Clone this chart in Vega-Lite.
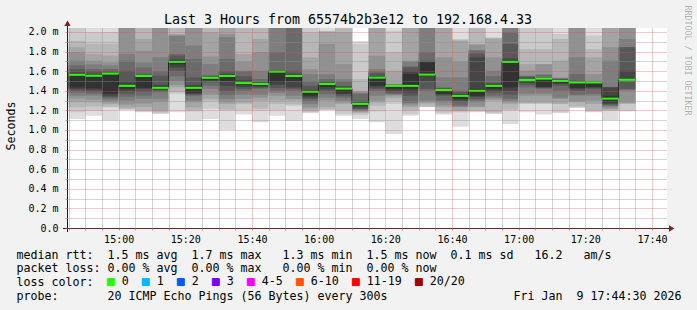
{
"$schema": "https://vega.github.io/schema/vega-lite/v6.json",
"width": 600, "height": 200,
"autosize": {"type": "none"},
"padding": {"left": 67, "top": 28, "right": 30, "bottom": 82},
"background": "#f2f2f2",
"config": {"view": {"fill": "#ffffff", "stroke": null}, "font": "DejaVu Sans Mono"},
"title": {"text": "Last 3 Hours from 65574b2b3e12 to 192.168.4.33", "font": "DejaVu Sans Mono", "fontSize": 13.3, "fontWeight": "normal", "color": "#000000", "anchor": "middle", "frame": "group", "dx": -19, "baseline": "alphabetic", "offset": -32},
"datasets": {
"median": [
{"t":885,"e":890,"m":1.563,"loss":"0"},{"t":890,"e":895,"m":1.553,"loss":"0"},{"t":895,"e":900,"m":1.575,"loss":"0"},{"t":900,"e":905,"m":1.45,"loss":"0"},{"t":905,"e":910,"m":1.551,"loss":"0"},{"t":910,"e":915,"m":1.43,"loss":"0"},{"t":915,"e":920,"m":1.695,"loss":"0"},{"t":920,"e":925,"m":1.43,"loss":"0"},{"t":925,"e":930,"m":1.532,"loss":"0"},{"t":930,"e":935,"m":1.551,"loss":"0"},{"t":935,"e":940,"m":1.479,"loss":"0"},{"t":940,"e":945,"m":1.469,"loss":"0"},{"t":945,"e":950,"m":1.595,"loss":"0"},{"t":950,"e":955,"m":1.551,"loss":"0"},{"t":955,"e":960,"m":1.39,"loss":"0"},{"t":960,"e":965,"m":1.469,"loss":"0"},{"t":965,"e":970,"m":1.422,"loss":"0"},{"t":970,"e":975,"m":1.266,"loss":"0"},{"t":975,"e":980,"m":1.534,"loss":"0"},{"t":980,"e":985,"m":1.45,"loss":"0"},{"t":985,"e":990,"m":1.45,"loss":"0"},{"t":990,"e":995,"m":1.565,"loss":"0"},{"t":995,"e":1000,"m":1.408,"loss":"0"},{"t":1000,"e":1005,"m":1.348,"loss":"0"},{"t":1005,"e":1010,"m":1.4,"loss":"0"},{"t":1010,"e":1015,"m":1.45,"loss":"0"},{"t":1015,"e":1020,"m":1.695,"loss":"0"},{"t":1020,"e":1025,"m":1.51,"loss":"0"},{"t":1025,"e":1030,"m":1.524,"loss":"0"},{"t":1030,"e":1035,"m":1.5,"loss":"0"},{"t":1035,"e":1040,"m":1.485,"loss":"0"},{"t":1040,"e":1045,"m":1.485,"loss":"0"},{"t":1045,"e":1050,"m":1.32,"loss":"0"},{"t":1050,"e":1055,"m":1.512,"loss":"0"}
],
"smoke": [
{"t":885,"e":890,"k":1,"lo":1.112,"hi":2.1},{"t":885,"e":890,"k":2,"lo":1.18,"hi":2.05},{"t":885,"e":890,"k":3,"lo":1.23,"hi":1.91},{"t":885,"e":890,"k":4,"lo":1.282,"hi":1.844},{"t":885,"e":890,"k":5,"lo":1.32,"hi":1.793},{"t":885,"e":890,"k":6,"lo":1.35,"hi":1.707},{"t":885,"e":890,"k":7,"lo":1.38,"hi":1.66},{"t":885,"e":890,"k":8,"lo":1.401,"hi":1.622},{"t":885,"e":890,"k":9,"lo":1.42,"hi":1.588},{"t":885,"e":890,"k":10,"lo":1.435,"hi":1.57},
{"t":890,"e":895,"k":1,"lo":1.146,"hi":2.1},{"t":890,"e":895,"k":2,"lo":1.197,"hi":1.997},{"t":890,"e":895,"k":3,"lo":1.24,"hi":1.88},{"t":890,"e":895,"k":4,"lo":1.282,"hi":1.776},{"t":890,"e":895,"k":5,"lo":1.31,"hi":1.707},{"t":890,"e":895,"k":6,"lo":1.35,"hi":1.67},{"t":890,"e":895,"k":7,"lo":1.37,"hi":1.622},{"t":890,"e":895,"k":8,"lo":1.39,"hi":1.6},{"t":890,"e":895,"k":9,"lo":1.41,"hi":1.571},{"t":890,"e":895,"k":10,"lo":1.425,"hi":1.56},
{"t":895,"e":900,"k":1,"lo":1.1,"hi":2.1},{"t":895,"e":900,"k":2,"lo":1.23,"hi":2.0},{"t":895,"e":900,"k":3,"lo":1.24,"hi":1.88},{"t":895,"e":900,"k":4,"lo":1.265,"hi":1.76},{"t":895,"e":900,"k":5,"lo":1.282,"hi":1.69},{"t":895,"e":900,"k":6,"lo":1.3,"hi":1.66},{"t":895,"e":900,"k":7,"lo":1.32,"hi":1.622},{"t":895,"e":900,"k":8,"lo":1.335,"hi":1.6},{"t":895,"e":900,"k":9,"lo":1.35,"hi":1.585},{"t":895,"e":900,"k":10,"lo":1.37,"hi":1.578},
{"t":900,"e":905,"k":1,"lo":1.204,"hi":2.1},{"t":900,"e":905,"k":2,"lo":1.21,"hi":2.1},{"t":900,"e":905,"k":3,"lo":1.214,"hi":2.1},{"t":900,"e":905,"k":4,"lo":1.231,"hi":2.1},{"t":900,"e":905,"k":5,"lo":1.26,"hi":2.1},{"t":900,"e":905,"k":6,"lo":1.299,"hi":1.776},{"t":900,"e":905,"k":7,"lo":1.34,"hi":1.707},{"t":900,"e":905,"k":8,"lo":1.37,"hi":1.605},{"t":900,"e":905,"k":9,"lo":1.4,"hi":1.5},{"t":900,"e":905,"k":10,"lo":1.42,"hi":1.46},
{"t":905,"e":910,"k":1,"lo":1.18,"hi":2.1},{"t":905,"e":910,"k":2,"lo":1.19,"hi":2.1},{"t":905,"e":910,"k":3,"lo":1.2,"hi":2.1},{"t":905,"e":910,"k":4,"lo":1.231,"hi":1.929},{"t":905,"e":910,"k":5,"lo":1.27,"hi":1.81},{"t":905,"e":910,"k":6,"lo":1.316,"hi":1.69},{"t":905,"e":910,"k":7,"lo":1.35,"hi":1.639},{"t":905,"e":910,"k":8,"lo":1.39,"hi":1.571},{"t":905,"e":910,"k":9,"lo":1.418,"hi":1.56},{"t":905,"e":910,"k":10,"lo":1.43,"hi":1.555},
{"t":910,"e":915,"k":1,"lo":1.163,"hi":2.1},{"t":910,"e":915,"k":2,"lo":1.17,"hi":2.1},{"t":910,"e":915,"k":3,"lo":1.18,"hi":2.1},{"t":910,"e":915,"k":4,"lo":1.2,"hi":2.1},{"t":910,"e":915,"k":5,"lo":1.282,"hi":2.1},{"t":910,"e":915,"k":6,"lo":1.32,"hi":1.741},{"t":910,"e":915,"k":7,"lo":1.384,"hi":1.6},{"t":910,"e":915,"k":8,"lo":1.4,"hi":1.554},{"t":910,"e":915,"k":9,"lo":1.41,"hi":1.46},{"t":910,"e":915,"k":10,"lo":1.418,"hi":1.44},
{"t":915,"e":920,"k":1,"lo":1.18,"hi":2.1},{"t":915,"e":920,"k":2,"lo":1.367,"hi":2.1},{"t":915,"e":920,"k":3,"lo":1.39,"hi":2.1},{"t":915,"e":920,"k":4,"lo":1.435,"hi":1.98},{"t":915,"e":920,"k":5,"lo":1.46,"hi":1.97},{"t":915,"e":920,"k":6,"lo":1.5,"hi":1.96},{"t":915,"e":920,"k":7,"lo":1.55,"hi":1.776},{"t":915,"e":920,"k":8,"lo":1.605,"hi":1.76},{"t":915,"e":920,"k":9,"lo":1.64,"hi":1.72},{"t":915,"e":920,"k":10,"lo":1.67,"hi":1.705},
{"t":920,"e":925,"k":1,"lo":1.095,"hi":2.1},{"t":920,"e":925,"k":2,"lo":1.19,"hi":2.1},{"t":920,"e":925,"k":3,"lo":1.2,"hi":2.1},{"t":920,"e":925,"k":4,"lo":1.23,"hi":2.1},{"t":920,"e":925,"k":5,"lo":1.282,"hi":2.1},{"t":920,"e":925,"k":6,"lo":1.3,"hi":1.861},{"t":920,"e":925,"k":7,"lo":1.35,"hi":1.724},{"t":920,"e":925,"k":8,"lo":1.36,"hi":1.537},{"t":920,"e":925,"k":9,"lo":1.37,"hi":1.46},{"t":920,"e":925,"k":10,"lo":1.38,"hi":1.44},
{"t":925,"e":930,"k":1,"lo":1.112,"hi":2.1},{"t":925,"e":930,"k":2,"lo":1.22,"hi":2.1},{"t":925,"e":930,"k":3,"lo":1.299,"hi":2.1},{"t":925,"e":930,"k":4,"lo":1.32,"hi":1.997},{"t":925,"e":930,"k":5,"lo":1.36,"hi":1.75},{"t":925,"e":930,"k":6,"lo":1.418,"hi":1.673},{"t":925,"e":930,"k":7,"lo":1.45,"hi":1.56},{"t":925,"e":930,"k":8,"lo":1.486,"hi":1.55},{"t":925,"e":930,"k":9,"lo":1.5,"hi":1.54},{"t":925,"e":930,"k":10,"lo":1.51,"hi":1.538},
{"t":930,"e":935,"k":1,"lo":1.0,"hi":2.1},{"t":930,"e":935,"k":2,"lo":1.197,"hi":2.1},{"t":930,"e":935,"k":3,"lo":1.21,"hi":2.1},{"t":930,"e":935,"k":4,"lo":1.265,"hi":2.1},{"t":930,"e":935,"k":5,"lo":1.282,"hi":1.98},{"t":930,"e":935,"k":6,"lo":1.316,"hi":1.95},{"t":930,"e":935,"k":7,"lo":1.36,"hi":1.724},{"t":930,"e":935,"k":8,"lo":1.4,"hi":1.6},{"t":930,"e":935,"k":9,"lo":1.45,"hi":1.57},{"t":930,"e":935,"k":10,"lo":1.5,"hi":1.56},
{"t":935,"e":940,"k":1,"lo":1.157,"hi":2.1},{"t":935,"e":940,"k":2,"lo":1.2,"hi":2.1},{"t":935,"e":940,"k":3,"lo":1.265,"hi":2.1},{"t":935,"e":940,"k":4,"lo":1.28,"hi":1.776},{"t":935,"e":940,"k":5,"lo":1.316,"hi":1.7},{"t":935,"e":940,"k":6,"lo":1.36,"hi":1.605},{"t":935,"e":940,"k":7,"lo":1.4,"hi":1.6},{"t":935,"e":940,"k":8,"lo":1.42,"hi":1.55},{"t":935,"e":940,"k":9,"lo":1.44,"hi":1.51},{"t":935,"e":940,"k":10,"lo":1.46,"hi":1.49},
{"t":940,"e":945,"k":1,"lo":1.078,"hi":2.1},{"t":940,"e":945,"k":2,"lo":1.197,"hi":2.1},{"t":940,"e":945,"k":3,"lo":1.22,"hi":2.1},{"t":940,"e":945,"k":4,"lo":1.299,"hi":1.929},{"t":940,"e":945,"k":5,"lo":1.33,"hi":1.793},{"t":940,"e":945,"k":6,"lo":1.36,"hi":1.605},{"t":940,"e":945,"k":7,"lo":1.418,"hi":1.52},{"t":940,"e":945,"k":8,"lo":1.43,"hi":1.49},{"t":940,"e":945,"k":9,"lo":1.44,"hi":1.48},{"t":940,"e":945,"k":10,"lo":1.45,"hi":1.475},
{"t":945,"e":950,"k":1,"lo":1.146,"hi":2.1},{"t":945,"e":950,"k":2,"lo":1.2,"hi":2.1},{"t":945,"e":950,"k":3,"lo":1.265,"hi":2.1},{"t":945,"e":950,"k":4,"lo":1.3,"hi":2.1},{"t":945,"e":950,"k":5,"lo":1.35,"hi":2.1},{"t":945,"e":950,"k":6,"lo":1.38,"hi":2.1},{"t":945,"e":950,"k":7,"lo":1.401,"hi":1.793},{"t":945,"e":950,"k":8,"lo":1.43,"hi":1.61},{"t":945,"e":950,"k":9,"lo":1.46,"hi":1.605},{"t":945,"e":950,"k":10,"lo":1.486,"hi":1.6},
{"t":950,"e":955,"k":1,"lo":1.095,"hi":2.1},{"t":950,"e":955,"k":2,"lo":1.248,"hi":2.1},{"t":950,"e":955,"k":3,"lo":1.26,"hi":2.1},{"t":950,"e":955,"k":4,"lo":1.3,"hi":2.1},{"t":950,"e":955,"k":5,"lo":1.316,"hi":2.1},{"t":950,"e":955,"k":6,"lo":1.35,"hi":2.1},{"t":950,"e":955,"k":7,"lo":1.4,"hi":2.1},{"t":950,"e":955,"k":8,"lo":1.42,"hi":1.605},{"t":950,"e":955,"k":9,"lo":1.435,"hi":1.571},{"t":950,"e":955,"k":10,"lo":1.5,"hi":1.56},
{"t":955,"e":960,"k":1,"lo":1.17,"hi":2.1},{"t":955,"e":960,"k":2,"lo":1.18,"hi":2.1},{"t":955,"e":960,"k":3,"lo":1.19,"hi":1.997},{"t":955,"e":960,"k":4,"lo":1.21,"hi":1.741},{"t":955,"e":960,"k":5,"lo":1.23,"hi":1.62},{"t":955,"e":960,"k":6,"lo":1.265,"hi":1.571},{"t":955,"e":960,"k":7,"lo":1.29,"hi":1.5},{"t":955,"e":960,"k":8,"lo":1.316,"hi":1.452},{"t":955,"e":960,"k":9,"lo":1.333,"hi":1.41},{"t":955,"e":960,"k":10,"lo":1.35,"hi":1.395},
{"t":960,"e":965,"k":1,"lo":1.204,"hi":2.1},{"t":960,"e":965,"k":2,"lo":1.206,"hi":2.014},{"t":960,"e":965,"k":3,"lo":1.21,"hi":2.01},{"t":960,"e":965,"k":4,"lo":1.231,"hi":2.0},{"t":960,"e":965,"k":5,"lo":1.3,"hi":1.878},{"t":960,"e":965,"k":6,"lo":1.33,"hi":1.571},{"t":960,"e":965,"k":7,"lo":1.367,"hi":1.52},{"t":960,"e":965,"k":8,"lo":1.4,"hi":1.5},{"t":960,"e":965,"k":9,"lo":1.42,"hi":1.48},{"t":960,"e":965,"k":10,"lo":1.44,"hi":1.475},
{"t":965,"e":970,"k":1,"lo":1.146,"hi":2.1},{"t":965,"e":970,"k":2,"lo":1.16,"hi":2.1},{"t":965,"e":970,"k":3,"lo":1.2,"hi":2.1},{"t":965,"e":970,"k":4,"lo":1.265,"hi":1.997},{"t":965,"e":970,"k":5,"lo":1.28,"hi":1.673},{"t":965,"e":970,"k":6,"lo":1.299,"hi":1.52},{"t":965,"e":970,"k":7,"lo":1.33,"hi":1.5},{"t":965,"e":970,"k":8,"lo":1.35,"hi":1.452},{"t":965,"e":970,"k":9,"lo":1.367,"hi":1.44},{"t":965,"e":970,"k":10,"lo":1.38,"hi":1.43},
{"t":970,"e":975,"k":1,"lo":1.112,"hi":1.905},{"t":970,"e":975,"k":2,"lo":1.15,"hi":1.878},{"t":970,"e":975,"k":3,"lo":1.17,"hi":1.52},{"t":970,"e":975,"k":4,"lo":1.18,"hi":1.4},{"t":970,"e":975,"k":5,"lo":1.19,"hi":1.39},{"t":970,"e":975,"k":6,"lo":1.197,"hi":1.38},{"t":970,"e":975,"k":7,"lo":1.21,"hi":1.37},{"t":970,"e":975,"k":8,"lo":1.214,"hi":1.3},{"t":970,"e":975,"k":9,"lo":1.231,"hi":1.28},{"t":970,"e":975,"k":10,"lo":1.248,"hi":1.27},
{"t":975,"e":980,"k":1,"lo":1.078,"hi":2.1},{"t":975,"e":980,"k":2,"lo":1.19,"hi":2.1},{"t":975,"e":980,"k":3,"lo":1.248,"hi":2.1},{"t":975,"e":980,"k":4,"lo":1.28,"hi":2.1},{"t":975,"e":980,"k":5,"lo":1.3,"hi":1.759},{"t":975,"e":980,"k":6,"lo":1.35,"hi":1.622},{"t":975,"e":980,"k":7,"lo":1.4,"hi":1.6},{"t":975,"e":980,"k":8,"lo":1.418,"hi":1.58},{"t":975,"e":980,"k":9,"lo":1.435,"hi":1.55},{"t":975,"e":980,"k":10,"lo":1.452,"hi":1.54},
{"t":980,"e":985,"k":1,"lo":0.959,"hi":2.1},{"t":980,"e":985,"k":2,"lo":1.265,"hi":2.014},{"t":980,"e":985,"k":3,"lo":1.3,"hi":1.793},{"t":980,"e":985,"k":4,"lo":1.33,"hi":1.605},{"t":980,"e":985,"k":5,"lo":1.35,"hi":1.469},{"t":980,"e":985,"k":6,"lo":1.36,"hi":1.466},{"t":980,"e":985,"k":7,"lo":1.367,"hi":1.463},{"t":980,"e":985,"k":8,"lo":1.38,"hi":1.46},{"t":980,"e":985,"k":9,"lo":1.4,"hi":1.458},{"t":980,"e":985,"k":10,"lo":1.42,"hi":1.456},
{"t":985,"e":990,"k":1,"lo":1.146,"hi":2.1},{"t":985,"e":990,"k":2,"lo":1.16,"hi":2.1},{"t":985,"e":990,"k":3,"lo":1.2,"hi":2.1},{"t":985,"e":990,"k":4,"lo":1.231,"hi":2.1},{"t":985,"e":990,"k":5,"lo":1.25,"hi":1.707},{"t":985,"e":990,"k":6,"lo":1.27,"hi":1.7},{"t":985,"e":990,"k":7,"lo":1.282,"hi":1.65},{"t":985,"e":990,"k":8,"lo":1.35,"hi":1.639},{"t":985,"e":990,"k":9,"lo":1.38,"hi":1.6},{"t":985,"e":990,"k":10,"lo":1.42,"hi":1.571},
{"t":990,"e":995,"k":1,"lo":1.231,"hi":2.1},{"t":990,"e":995,"k":2,"lo":1.235,"hi":2.1},{"t":990,"e":995,"k":3,"lo":1.24,"hi":2.1},{"t":990,"e":995,"k":4,"lo":1.27,"hi":2.1},{"t":990,"e":995,"k":5,"lo":1.282,"hi":2.1},{"t":990,"e":995,"k":6,"lo":1.3,"hi":2.1},{"t":990,"e":995,"k":7,"lo":1.401,"hi":1.793},{"t":990,"e":995,"k":8,"lo":1.42,"hi":1.707},{"t":990,"e":995,"k":9,"lo":1.5,"hi":1.7},{"t":990,"e":995,"k":10,"lo":1.55,"hi":1.69},
{"t":995,"e":1000,"k":1,"lo":1.157,"hi":2.1},{"t":995,"e":1000,"k":2,"lo":1.17,"hi":2.1},{"t":995,"e":1000,"k":3,"lo":1.19,"hi":2.1},{"t":995,"e":1000,"k":4,"lo":1.231,"hi":2.1},{"t":995,"e":1000,"k":5,"lo":1.25,"hi":1.741},{"t":995,"e":1000,"k":6,"lo":1.282,"hi":1.537},{"t":995,"e":1000,"k":7,"lo":1.3,"hi":1.435},{"t":995,"e":1000,"k":8,"lo":1.35,"hi":1.425},{"t":995,"e":1000,"k":9,"lo":1.36,"hi":1.42},{"t":995,"e":1000,"k":10,"lo":1.37,"hi":1.415},
{"t":1000,"e":1005,"k":1,"lo":1.034,"hi":2.1},{"t":1000,"e":1005,"k":2,"lo":1.18,"hi":1.929},{"t":1000,"e":1005,"k":3,"lo":1.19,"hi":1.92},{"t":1000,"e":1005,"k":4,"lo":1.2,"hi":1.91},{"t":1000,"e":1005,"k":5,"lo":1.231,"hi":1.7},{"t":1000,"e":1005,"k":6,"lo":1.24,"hi":1.537},{"t":1000,"e":1005,"k":7,"lo":1.248,"hi":1.401},{"t":1000,"e":1005,"k":8,"lo":1.282,"hi":1.39},{"t":1000,"e":1005,"k":9,"lo":1.3,"hi":1.367},{"t":1000,"e":1005,"k":10,"lo":1.316,"hi":1.36},
{"t":1005,"e":1010,"k":1,"lo":1.18,"hi":2.1},{"t":1005,"e":1010,"k":2,"lo":1.19,"hi":2.1},{"t":1005,"e":1010,"k":3,"lo":1.2,"hi":2.1},{"t":1005,"e":1010,"k":4,"lo":1.231,"hi":1.878},{"t":1005,"e":1010,"k":5,"lo":1.24,"hi":1.87},{"t":1005,"e":1010,"k":6,"lo":1.282,"hi":1.815},{"t":1005,"e":1010,"k":7,"lo":1.3,"hi":1.81},{"t":1005,"e":1010,"k":8,"lo":1.316,"hi":1.78},{"t":1005,"e":1010,"k":9,"lo":1.34,"hi":1.741},{"t":1005,"e":1010,"k":10,"lo":1.35,"hi":1.42},
{"t":1010,"e":1015,"k":1,"lo":1.163,"hi":2.1},{"t":1010,"e":1015,"k":2,"lo":1.17,"hi":1.946},{"t":1010,"e":1015,"k":3,"lo":1.18,"hi":1.94},{"t":1010,"e":1015,"k":4,"lo":1.299,"hi":1.93},{"t":1010,"e":1015,"k":5,"lo":1.31,"hi":1.741},{"t":1010,"e":1015,"k":6,"lo":1.33,"hi":1.605},{"t":1010,"e":1015,"k":7,"lo":1.35,"hi":1.55},{"t":1010,"e":1015,"k":8,"lo":1.38,"hi":1.486},{"t":1010,"e":1015,"k":9,"lo":1.401,"hi":1.47},{"t":1010,"e":1015,"k":10,"lo":1.42,"hi":1.46},
{"t":1015,"e":1020,"k":1,"lo":1.061,"hi":2.1},{"t":1015,"e":1020,"k":2,"lo":1.197,"hi":2.1},{"t":1015,"e":1020,"k":3,"lo":1.21,"hi":2.1},{"t":1015,"e":1020,"k":4,"lo":1.265,"hi":2.1},{"t":1015,"e":1020,"k":5,"lo":1.28,"hi":2.1},{"t":1015,"e":1020,"k":6,"lo":1.299,"hi":2.1},{"t":1015,"e":1020,"k":7,"lo":1.32,"hi":1.997},{"t":1015,"e":1020,"k":8,"lo":1.36,"hi":1.878},{"t":1015,"e":1020,"k":9,"lo":1.4,"hi":1.73},{"t":1015,"e":1020,"k":10,"lo":1.435,"hi":1.705},
{"t":1020,"e":1025,"k":1,"lo":1.18,"hi":2.1},{"t":1020,"e":1025,"k":2,"lo":1.265,"hi":2.1},{"t":1020,"e":1025,"k":3,"lo":1.27,"hi":1.827},{"t":1020,"e":1025,"k":4,"lo":1.28,"hi":1.673},{"t":1020,"e":1025,"k":5,"lo":1.35,"hi":1.605},{"t":1020,"e":1025,"k":6,"lo":1.37,"hi":1.554},{"t":1020,"e":1025,"k":7,"lo":1.435,"hi":1.55},{"t":1020,"e":1025,"k":8,"lo":1.46,"hi":1.545},{"t":1020,"e":1025,"k":9,"lo":1.48,"hi":1.52},{"t":1020,"e":1025,"k":10,"lo":1.49,"hi":1.515},
{"t":1025,"e":1030,"k":1,"lo":1.157,"hi":2.1},{"t":1025,"e":1030,"k":2,"lo":1.265,"hi":2.1},{"t":1025,"e":1030,"k":3,"lo":1.27,"hi":1.827},{"t":1025,"e":1030,"k":4,"lo":1.28,"hi":1.673},{"t":1025,"e":1030,"k":5,"lo":1.35,"hi":1.67},{"t":1025,"e":1030,"k":6,"lo":1.37,"hi":1.571},{"t":1025,"e":1030,"k":7,"lo":1.418,"hi":1.56},{"t":1025,"e":1030,"k":8,"lo":1.43,"hi":1.537},{"t":1025,"e":1030,"k":9,"lo":1.435,"hi":1.53},{"t":1025,"e":1030,"k":10,"lo":1.44,"hi":1.528},
{"t":1030,"e":1035,"k":1,"lo":1.17,"hi":2.1},{"t":1030,"e":1035,"k":2,"lo":1.18,"hi":1.98},{"t":1030,"e":1035,"k":3,"lo":1.265,"hi":1.929},{"t":1030,"e":1035,"k":4,"lo":1.27,"hi":1.707},{"t":1030,"e":1035,"k":5,"lo":1.316,"hi":1.537},{"t":1030,"e":1035,"k":6,"lo":1.33,"hi":1.53},{"t":1030,"e":1035,"k":7,"lo":1.401,"hi":1.525},{"t":1030,"e":1035,"k":8,"lo":1.45,"hi":1.52},{"t":1030,"e":1035,"k":9,"lo":1.47,"hi":1.51},{"t":1030,"e":1035,"k":10,"lo":1.48,"hi":1.505},
{"t":1035,"e":1040,"k":1,"lo":1.224,"hi":2.1},{"t":1035,"e":1040,"k":2,"lo":1.23,"hi":2.1},{"t":1035,"e":1040,"k":3,"lo":1.24,"hi":2.1},{"t":1035,"e":1040,"k":4,"lo":1.282,"hi":2.1},{"t":1035,"e":1040,"k":5,"lo":1.29,"hi":2.1},{"t":1035,"e":1040,"k":6,"lo":1.35,"hi":1.741},{"t":1035,"e":1040,"k":7,"lo":1.36,"hi":1.571},{"t":1035,"e":1040,"k":8,"lo":1.4,"hi":1.503},{"t":1035,"e":1040,"k":9,"lo":1.418,"hi":1.495},{"t":1035,"e":1040,"k":10,"lo":1.43,"hi":1.49},
{"t":1040,"e":1045,"k":1,"lo":1.18,"hi":2.1},{"t":1040,"e":1045,"k":2,"lo":1.19,"hi":1.963},{"t":1040,"e":1045,"k":3,"lo":1.2,"hi":1.827},{"t":1040,"e":1045,"k":4,"lo":1.265,"hi":1.741},{"t":1040,"e":1045,"k":5,"lo":1.3,"hi":1.571},{"t":1040,"e":1045,"k":6,"lo":1.35,"hi":1.503},{"t":1040,"e":1045,"k":7,"lo":1.37,"hi":1.5},{"t":1040,"e":1045,"k":8,"lo":1.418,"hi":1.495},{"t":1040,"e":1045,"k":9,"lo":1.43,"hi":1.49},{"t":1040,"e":1045,"k":10,"lo":1.44,"hi":1.487},
{"t":1045,"e":1050,"k":1,"lo":1.1,"hi":2.1},{"t":1045,"e":1050,"k":2,"lo":1.197,"hi":2.1},{"t":1045,"e":1050,"k":3,"lo":1.2,"hi":2.1},{"t":1045,"e":1050,"k":4,"lo":1.21,"hi":2.1},{"t":1045,"e":1050,"k":5,"lo":1.22,"hi":1.844},{"t":1045,"e":1050,"k":6,"lo":1.24,"hi":1.707},{"t":1045,"e":1050,"k":7,"lo":1.248,"hi":1.44},{"t":1045,"e":1050,"k":8,"lo":1.26,"hi":1.437},{"t":1045,"e":1050,"k":9,"lo":1.27,"hi":1.435},{"t":1045,"e":1050,"k":10,"lo":1.28,"hi":1.35},
{"t":1050,"e":1055,"k":1,"lo":1.19,"hi":2.1},{"t":1050,"e":1055,"k":2,"lo":1.2,"hi":2.1},{"t":1050,"e":1055,"k":3,"lo":1.265,"hi":2.1},{"t":1050,"e":1055,"k":4,"lo":1.27,"hi":2.1},{"t":1050,"e":1055,"k":5,"lo":1.28,"hi":2.1},{"t":1050,"e":1055,"k":6,"lo":1.401,"hi":1.929},{"t":1050,"e":1055,"k":7,"lo":1.41,"hi":1.844},{"t":1050,"e":1055,"k":8,"lo":1.42,"hi":1.843},{"t":1050,"e":1055,"k":9,"lo":1.503,"hi":1.605},{"t":1050,"e":1055,"k":10,"lo":1.51,"hi":1.52}
]
},
"resolve": {"axis": {"x": "independent", "y": "independent"}},
"layer": [
{
"data": {"name": "smoke"},
"mark": {"type": "rect", "clip": true},
"encoding": {
"x": {"field": "t", "type": "quantitative",
"scale": {"domain": [884.5, 1064.5], "nice": false, "zero": false},
"axis": {
"orient": "bottom", "zindex": 1,
"values": [885, 890, 895, 900, 905, 910, 915, 920, 925, 930, 935, 940, 945, 950, 955, 960, 965, 970, 975, 980, 985, 990, 995, 1000, 1005, 1010, 1015, 1020, 1025, 1030, 1035, 1040, 1045, 1050, 1055, 1060],
"grid": true, "gridDash": [1, 1], "gridWidth": 1,
"gridColor": {"condition": {"test": "datum.value % 20 == 0", "value": "rgba(222,79,79,0.6)"}, "value": "rgba(143,143,143,0.75)"},
"domain": false,
"ticks": true, "tickSize": 2,
"tickColor": {"condition": {"test": "datum.value % 20 == 0", "value": "rgba(222,79,79,0.6)"}, "value": "rgba(143,143,143,0.75)"},
"labelExpr": "datum.value % 20 == 0 ? floor(datum.value / 60) + ':' + (datum.value % 60 < 10 ? '0' : '') + (datum.value % 60) : ''",
"labelFont": "DejaVu Sans Mono", "labelFontSize": 10, "labelColor": "#000000", "labelBaseline": "alphabetic", "labelPadding": 12, "labelOverlap": false, "labelFlush": false, "labelBound": false,
"title": [
"median rtt:\u00a0\u00a01.5 ms avg\u00a0\u00a01.7 ms max\u00a0\u00a0\u00a01.3 ms min\u00a0\u00a01.5 ms now\u00a0\u00a00.1 ms sd\u00a0\u00a0\u00a016.2\u00a0\u00a0\u00a0am/s",
"packet loss:\u00a00.00 % avg\u00a0\u00a00.00 % max\u00a0\u00a0\u00a00.00 % min\u00a0\u00a00.00 % now",
"loss color:",
"probe:\u00a0\u00a0\u00a0\u00a0\u00a0\u00a0\u00a020 ICMP Echo Pings (56 Bytes) every 300s\u00a0\u00a0\u00a0\u00a0\u00a0\u00a0\u00a0\u00a0\u00a0\u00a0\u00a0\u00a0\u00a0\u00a0\u00a0\u00a0\u00a0\u00a0Fri Jan\u00a0\u00a09 17:44:30 2026"
],
"titleFont": "DejaVu Sans Mono", "titleFontSize": 11.63, "titleFontWeight": "normal", "titleColor": "#000000",
"titleAlign": "left", "titleX": -51, "titleY": 30, "titleBaseline": "alphabetic", "titleLineHeight": 13.67, "titleLimit": 1000
}
},
"x2": {"field": "e"},
"y": {"field": "lo", "type": "quantitative",
"scale": {"domain": [0, 2.0408], "nice": false, "zero": false},
"axis": {
"orient": "left", "zindex": 1,
"values": [0, 0.1, 0.2, 0.3, 0.4, 0.5, 0.6, 0.7, 0.8, 0.9, 1.0, 1.1, 1.2, 1.3, 1.4, 1.5, 1.6, 1.7, 1.8, 1.9, 2.0],
"grid": true, "gridDash": [1, 1], "gridWidth": 1,
"gridColor": {"condition": {"test": "round(datum.value * 10) % 2 == 0", "value": "rgba(222,79,79,0.6)"}, "value": "rgba(143,143,143,0.75)"},
"domain": false, "ticks": true, "tickSize": 2,
"tickColor": {"condition": {"test": "round(datum.value * 10) % 2 == 0", "value": "rgba(222,79,79,0.6)"}, "value": "rgba(143,143,143,0.75)"},
"labelExpr": "round(datum.value * 10) % 2 == 0 ? (datum.value == 0 ? '0.0' : format(datum.value, '.1f') + ' m') : ''",
"labelFont": "DejaVu Sans Mono", "labelFontSize": 10, "labelColor": "#000000", "labelPadding": 7, "labelOverlap": false, "labelBound": false, "labelFlush": false,
"title": "Seconds", "titleFont": "DejaVu Sans Mono", "titleFontSize": 11.63, "titleFontWeight": "normal", "titleColor": "#000000",
"titleAngle": -90, "titleX": -53, "titleY": 97.5, "titleAlign": "center", "titleBaseline": "alphabetic"
}
},
"y2": {"field": "hi"},
"fill": {"field": "k", "type": "ordinal", "legend": null,
"scale": {"domain": [1, 2, 3, 4, 5, 6, 7, 8, 9, 10], "range": ["#dddddd", "#cacaca", "#b7b7b7", "#a4a4a4", "#919191", "#7e7e7e", "#6b6b6b", "#585858", "#454545", "#323232"]}}
}
},
{
"data": {"name": "median"},
"mark": {"type": "line", "interpolate": "step-after", "color": "#1a1a1a", "strokeWidth": 1, "clip": true},
"encoding": {
"x": {"field": "t", "type": "quantitative", "axis": null},
"y": {"field": "m", "type": "quantitative", "axis": null}
}
},
{
"data": {"name": "median"},
"mark": {"type": "rule", "strokeWidth": 2, "strokeCap": "butt"},
"encoding": {
"x": {"field": "t", "type": "quantitative", "axis": null},
"x2": {"field": "e"},
"y": {"field": "m", "type": "quantitative",
"axis": {"orient": "right", "labels": false, "ticks": false, "domain": false, "grid": false,
"title": "RRDTOOL / TOBI OETIKER", "titleFont": "DejaVu Sans Mono", "titleFontSize": 8.3, "titleFontWeight": "normal", "titleColor": "rgba(0,0,0,0.3)",
"titleAngle": 90, "titleX": 17.5, "titleY": -23, "titleAlign": "left", "titleBaseline": "alphabetic"}},
"color": {"field": "loss", "type": "nominal",
"scale": {"domain": ["0", "1", "2", "3", "4-5", "6-10", "11-19", "20/20"], "range": ["#26ff00", "#00b8ff", "#0059ff", "#7e00ff", "#ff00ff", "#ff5500", "#ff0000", "#a10000"]},
"legend": {"orient": "none", "legendX": 38, "legendY": 248, "direction": "horizontal", "title": null,
"symbolType": "square", "symbolSize": 49, "labelFont": "DejaVu Sans Mono", "labelFontSize": 11.63, "labelColor": "#000000",
"labelOffset": 5, "columnPadding": 11, "padding": 0,
"encode": {"symbols": {"update": {"fill": {"scale": "color", "field": "value"}, "stroke": {"value": "#000000"}, "strokeWidth": {"value": 1}, "opacity": {"value": 1}}}}}}
}
},
{
"data": {"values": [{}]},
"mark": {"type": "rule", "color": "#1f1f1f", "strokeWidth": 1, "clip": false},
"encoding": {
"x": {"datum": 883.3, "type": "quantitative", "axis": null},
"x2": {"datum": 1065.7},
"y": {"datum": -0.0051, "type": "quantitative", "axis": null}
}
},
{
"data": {"values": [{}]},
"mark": {"type": "rule", "color": "#1f1f1f", "strokeWidth": 1, "clip": false},
"encoding": {
"x": {"datum": 884.65, "type": "quantitative", "axis": null},
"y": {"datum": -0.0408, "type": "quantitative", "axis": null},
"y2": {"datum": 2.0816}
}
},
{
"data": {"values": [{}]},
"mark": {"type": "point", "filled": true, "color": "#801f1f", "opacity": 1, "size": 40, "shape": "triangle-up", "clip": false},
"encoding": {
"x": {"datum": 884.65, "type": "quantitative", "axis": null},
"y": {"datum": 2.0893, "type": "quantitative", "axis": null}
}
},
{
"data": {"values": [{}]},
"mark": {"type": "point", "filled": true, "color": "#801f1f", "opacity": 1, "size": 40, "shape": "triangle-right", "clip": false},
"encoding": {
"x": {"datum": 1065.9, "type": "quantitative", "axis": null},
"y": {"datum": -0.0051, "type": "quantitative", "axis": null}
}
}
]
}
